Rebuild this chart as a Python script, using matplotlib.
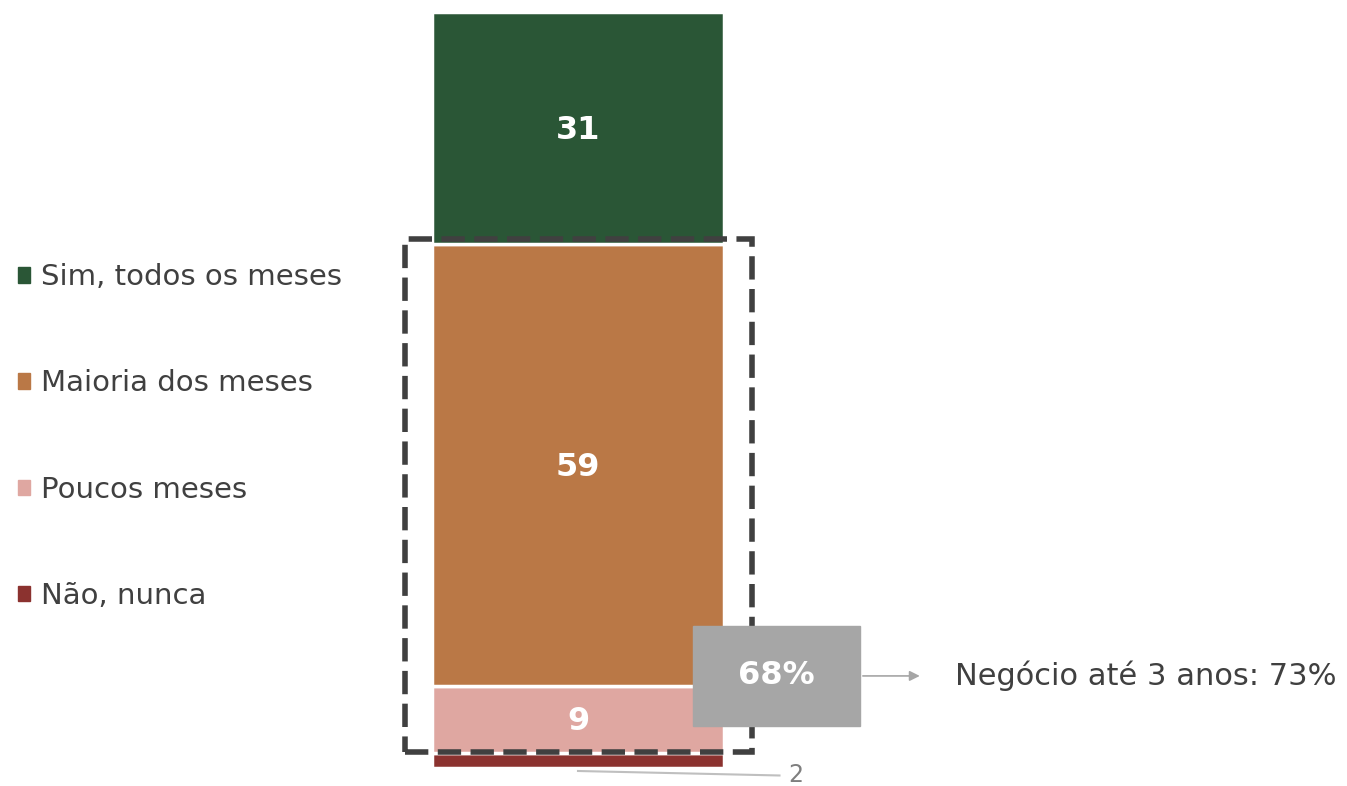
import numpy as np
import matplotlib.pyplot as plt
from matplotlib.patches import Rectangle, Patch

# data (bottom to top)
labels = ['Não, nunca', 'Poucos meses', 'Maioria dos meses', 'Sim, todos os meses']
values = [2, 9, 59, 31]
colors = ['#8B322F', '#DFA7A1', '#BA7846', '#2A5636']
highlight = '68%'
note = 'Negócio até 3 anos: 73%'

plt.rcParams['font.family'] = ['DejaVu Sans']

fig = plt.figure(figsize=(13.47, 7.86), dpi=100)
ax = fig.add_axes([0, 18/786, 1, 756/786])
ax.set_xlim(-578/292, (1347-578)/292)
ax.set_ylim(0, sum(values))
ax.axis('off')

bottoms = np.concatenate([[0], np.cumsum(values)[:-1]])
ax.bar([0]*4, values, width=1, bottom=bottoms, color=colors,
       edgecolor='white', linewidth=2.5)

# value labels
for v, b in zip(values, bottoms):
    if v >= 5:
        ax.text(0, b + v/2 - 0.3, str(v), ha='center', va='center', color='white',
                fontsize=23, fontweight='bold')
# small segment label with leader line
ax.plot([0, 0.69], [bottoms[0] - 0.4, bottoms[0] - 1.0], color='#BFBFBF', lw=1.5,
        clip_on=False)
ax.text(0.72, bottoms[0] - 1.0, str(values[0]), ha='left', va='center',
        color='#7F7F7F', fontsize=17, clip_on=False)

# dashed box around pink + orange
ylo = bottoms[1] + 0.1
yhi = bottoms[3] + 0.7
ax.add_patch(Rectangle((-0.592, ylo), 1.188, yhi - ylo, fill=False,
                       edgecolor='#404040', lw=4, ls=(0, (4.2, 1.7)), zorder=3))

# grey highlight box
ax.add_patch(Rectangle((0.394, 5.6), 0.572, 13.4, color='#A6A6A6', zorder=4))
ax.text(0.68, 12.3, highlight, ha='center', va='center', color='white',
        fontsize=23, fontweight='bold', zorder=5)
ax.annotate('', xy=(1.18, 12.3), xytext=(0.966, 12.3),
            arrowprops=dict(arrowstyle='-|>', color='#A6A6A6', lw=1.2,
                            mutation_scale=15))
ax.text(1.29, 12.3, note, ha='left', va='center', color='#404040', fontsize=22)

# legend
handles = [Patch(color=c, label=l) for c, l in zip(colors[::-1], labels[::-1])]
fig.legend(handles=handles, loc='upper left', bbox_to_anchor=(0.013, 0.665),
           frameon=False, fontsize=21, labelcolor='#404040', handlelength=0.43,
           handleheight=0.43, handletextpad=0.38, labelspacing=2.68,
           borderaxespad=0, borderpad=0)

fig.savefig('out.png', dpi=100)
